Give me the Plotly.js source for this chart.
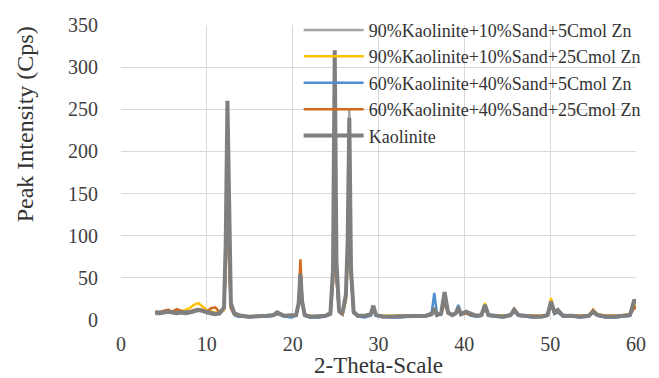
<!DOCTYPE html>
<html><head><meta charset="utf-8">
<script src="https://cdn.plot.ly/plotly-3.0.1.min.js"></script>
</head><body style="margin:0;padding:0;">
<div id="chart"></div>
<script>
const theta = [4,4.5,5,5.5,6,6.5,7,7.5,8,8.5,
 9,9.5,10,10.5,11,11.5,12,12.2,12.4,12.6,
 12.8,13.2,13.6,14,15,16,17,17.8,18.2,19,
 19.8,20.4,20.7,20.9,21.1,21.4,22,23,23.8,24.4,
 24.7,24.9,25.1,25.4,25.8,26.2,26.4,26.6,26.8,27.1,
 27.6,28.4,29.1,29.4,29.7,30.5,31.5,32.5,33.5,34.5,
 35.5,36.2,36.5,36.8,37.3,37.7,38.1,38.6,39.0,39.3,
 39.6,40.2,40.8,41.4,42.0,42.4,42.8,43.5,44.5,45.4,
 45.8,46.3,47,48,49,49.7,50.1,50.5,50.9,51.5,
 52.5,53.5,54.5,55,55.5,56.5,57.5,58.5,59.3,59.8,
 60];

const k90s10zn5 = [7,7,8,9,8,7,8,7,8,9,
 11,10,8,7,6,7,12,80,250,85,
 18,7,5,4,4,4,4,5,8,4,
 4,5,18,50,20,5,4,3,4,7,
 55,300,65,10,7,28,95,250,55,9,
 4,4,6,15,5,4,3,4,4,4,
 4,6,12,5,7,30,8,5,7,13,
 6,9,6,4,5,16,5,4,4,5,
 11,5,4,4,4,5,20,8,11,4,
 4,4,4,9,5,4,3,4,5,22,
 18];

const k90s10zn25 = [8,9,10,9,10,9,10,12,14,18,
 20,16,12,10,9,8,12,70,200,75,
 15,6,5,5,4,5,5,6,7,5,
 5,6,18,55,20,5,5,4,5,7,
 50,250,55,10,7,22,70,200,50,8,
 5,5,6,12,6,5,5,5,5,5,
 6,7,12,6,7,25,8,7,8,14,
 7,9,6,5,6,20,6,5,5,6,
 13,6,5,5,5,6,26,9,10,6,
 5,5,6,12,7,5,5,6,7,18,
 16];

const k60s40zn5 = [9,10,9,11,10,12,9,10,10,11,
 13,11,10,9,8,9,14,65,180,70,
 14,6,4,4,3,4,4,5,7,4,
 3,5,18,60,22,5,3,3,4,6,
 45,240,50,9,6,25,80,232,55,8,
 4,3,5,12,5,4,3,3,4,4,
 5,9,32,8,6,22,8,5,8,18,
 6,8,5,4,5,14,5,4,3,5,
 10,5,4,3,4,5,18,7,9,4,
 4,3,4,9,5,3,3,4,5,16,
 14];

const k60s40zn25 = [10,9,11,12,10,13,11,9,10,12,
 13,12,10,14,15,9,14,60,170,65,
 14,7,5,5,4,5,5,6,8,5,
 5,6,20,72,25,6,5,4,5,7,
 45,230,50,10,7,25,80,228,50,9,
 5,5,6,12,6,5,4,5,5,5,
 5,8,14,7,8,20,8,6,9,13,
 7,8,6,5,6,16,6,5,5,6,
 14,6,5,5,5,6,20,8,10,5,
 5,5,5,12,6,5,5,5,6,15,
 13];

const kaolinite = [9,8,9,10,9,8,9,8,9,10,
 12,11,9,8,7,8,15,90,260,95,
 20,8,6,5,4,4,5,6,9,5,
 5,6,20,55,22,6,4,4,5,8,
 60,320,70,12,8,30,90,240,60,10,
 5,5,7,17,6,4,4,4,4,5,
 5,7,14,6,8,33,9,6,8,15,
 7,10,7,5,6,18,6,5,4,6,
 12,6,5,4,4,6,22,9,12,5,
 5,4,5,10,6,4,4,5,6,24,
 20];

const seriesNames = ['90%Kaolinite+10%Sand+5Cmol Zn','90%Kaolinite+10%Sand+25Cmol Zn','60%Kaolinite+40%Sand+5Cmol Zn','60%Kaolinite+40%Sand+25Cmol Zn','Kaolinite'];
const seriesValues = [k90s10zn5, k90s10zn25, k60s40zn5, k60s40zn25, kaolinite];
const colors = ['#a5a5a5','#ffc000','#4f8fcf','#d2691e','#7f7f7f'];
const widths = [2.5,2.5,2.5,2.5,4];
const FONT = 'Liberation Serif';

const traces = seriesNames.map((n,i)=>({
  x: theta, y: seriesValues[i], name: n, type:'scatter', mode:'lines',
  line:{color:colors[i], width:widths[i]}
}));

const layout = {
  width:659, height:378,
  margin:{l:121, r:23, t:22, b:58},
  paper_bgcolor:'#fff', plot_bgcolor:'#fff',
  showlegend:true,
  legend:{x:0.345, y:1.045, xanchor:'left', yanchor:'top', bgcolor:'rgba(0,0,0,0)',
    font:{family:FONT, size:18, color:'#333'}, itemwidth:60, tracegroupgap:0},
  xaxis:{range:[0,60], dtick:10, tick0:0, showgrid:true, gridcolor:'#d9d9d9', gridwidth:1,
    zeroline:false, showline:false, ticks:'', tickfont:{family:FONT, size:20, color:'#404040'},
    ticklabelstandoff:10,
    title:{text:'2-Theta-Scale', font:{family:FONT, size:23, color:'#333'}, standoff:2}},
  yaxis:{range:[0,350], dtick:50, tick0:0, showgrid:true, gridcolor:'#d9d9d9', gridwidth:1,
    zeroline:false, showline:false, ticks:'', tickfont:{family:FONT, size:20, color:'#404040'}, ticklabelstandoff:22},
  annotations:[{text:'Peak Intensity (Cps)', textangle:-90, xref:'paper', yref:'paper',
    x:-0.186, y:0.664, xanchor:'center', yanchor:'middle', showarrow:false,
    font:{family:FONT, size:24, color:'#333'}}]
};
Plotly.newPlot('chart', traces, layout, {displayModeBar:false});
</script>
</body></html>
